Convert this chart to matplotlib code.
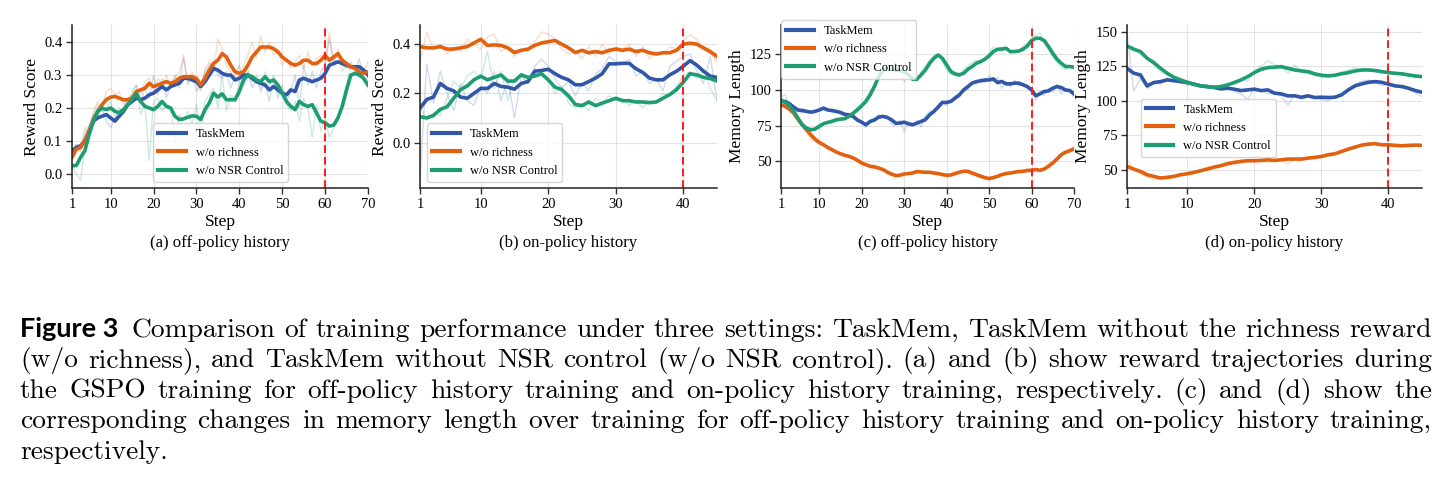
import numpy as np
import matplotlib.pyplot as plt

plt.rcParams['font.family'] = ['Liberation Serif', 'DejaVu Serif']

steps_off = np.arange(1, 71)
steps_on = np.arange(1, 46)
series_names = ["TaskMem", "w/o richness", "w/o NSR Control"]
colors = ["#3158a8", "#e2610f", "#1f9d72"]

# (a) reward, off-policy history -- smoothed curves
a_taskmem = [0.07, 0.08, 0.085, 0.10, 0.13, 0.16, 0.17, 0.175, 0.18, 0.17,
             0.16, 0.175, 0.19, 0.21, 0.22, 0.23, 0.225, 0.23, 0.24, 0.245,
             0.255, 0.265, 0.255, 0.265, 0.27, 0.275, 0.29, 0.29, 0.285, 0.28,
             0.265, 0.28, 0.30, 0.32, 0.315, 0.305, 0.30, 0.30, 0.285, 0.29,
             0.30, 0.30, 0.29, 0.28, 0.275, 0.27, 0.255, 0.265, 0.255, 0.245,
             0.24, 0.255, 0.25, 0.285, 0.29, 0.285, 0.28, 0.285, 0.29, 0.305,
             0.33, 0.335, 0.34, 0.335, 0.33, 0.325, 0.325, 0.325, 0.315, 0.30]
a_richness = [0.05, 0.075, 0.08, 0.10, 0.13, 0.165, 0.19, 0.21, 0.225, 0.233,
              0.235, 0.23, 0.225, 0.225, 0.23, 0.25, 0.255, 0.26, 0.275, 0.265,
              0.27, 0.275, 0.28, 0.275, 0.28, 0.29, 0.295, 0.295, 0.295, 0.29,
              0.27, 0.29, 0.315, 0.335, 0.345, 0.365, 0.355, 0.33, 0.31, 0.305,
              0.31, 0.33, 0.355, 0.37, 0.385, 0.385, 0.385, 0.38, 0.37, 0.355,
              0.345, 0.335, 0.33, 0.335, 0.345, 0.345, 0.335, 0.335, 0.345, 0.36,
              0.345, 0.355, 0.365, 0.345, 0.335, 0.325, 0.32, 0.31, 0.305, 0.31]
a_nsr = [0.025, 0.025, 0.05, 0.07, 0.12, 0.16, 0.19, 0.20, 0.195, 0.20,
         0.19, 0.185, 0.195, 0.21, 0.225, 0.245, 0.22, 0.205, 0.20, 0.195,
         0.205, 0.22, 0.205, 0.20, 0.175, 0.165, 0.167, 0.172, 0.176, 0.175,
         0.165, 0.195, 0.215, 0.245, 0.233, 0.243, 0.225, 0.225, 0.225, 0.25,
         0.285, 0.30, 0.295, 0.285, 0.28, 0.295, 0.28, 0.285, 0.27, 0.245,
         0.22, 0.205, 0.195, 0.22, 0.21, 0.205, 0.21, 0.185, 0.16, 0.155,
         0.145, 0.148, 0.17, 0.205, 0.255, 0.30, 0.305, 0.30, 0.29, 0.27]
# (a) raw values
a_taskmem_raw = [0.07, 0.09, 0.08, 0.12, 0.15, 0.18, 0.17, 0.20, 0.16, 0.14,
                 0.17, 0.19, 0.20, 0.23, 0.21, 0.24, 0.22, 0.26, 0.23, 0.30,
                 0.24, 0.29, 0.23, 0.27, 0.30, 0.26, 0.36, 0.27, 0.30, 0.25,
                 0.27, 0.31, 0.33, 0.34, 0.30, 0.29, 0.31, 0.26, 0.30, 0.33,
                 0.27, 0.31, 0.26, 0.29, 0.25, 0.28, 0.22, 0.29, 0.23, 0.27,
                 0.22, 0.25, 0.30, 0.20, 0.33, 0.27, 0.31, 0.26, 0.31, 0.33,
                 0.41, 0.34, 0.36, 0.33, 0.32, 0.34, 0.31, 0.35, 0.28, 0.29]
a_richness_raw = [0.05, 0.09, 0.07, 0.14, 0.12, 0.19, 0.22, 0.20, 0.25, 0.26,
                  0.24, 0.25, 0.21, 0.23, 0.24, 0.27, 0.24, 0.28, 0.29, 0.25,
                  0.29, 0.27, 0.30, 0.26, 0.29, 0.31, 0.35, 0.28, 0.31, 0.28,
                  0.25, 0.32, 0.34, 0.31, 0.41, 0.38, 0.33, 0.31, 0.29, 0.30,
                  0.33, 0.36, 0.40, 0.35, 0.42, 0.37, 0.40, 0.36, 0.38, 0.33,
                  0.35, 0.32, 0.34, 0.36, 0.32, 0.37, 0.33, 0.35, 0.36, 0.34,
                  0.43, 0.33, 0.38, 0.31, 0.34, 0.32, 0.33, 0.30, 0.31, 0.34]
a_nsr_raw = [0.03, 0.00, -0.02, 0.08, 0.14, 0.18, 0.21, 0.19, 0.20, 0.22,
             0.17, 0.20, 0.18, 0.22, 0.25, 0.27, 0.18, 0.21, 0.04, 0.22,
             0.23, 0.19, 0.21, 0.20, 0.10, 0.18, 0.16, 0.19, 0.15, 0.21,
             0.12, 0.22, 0.24, 0.26, 0.20, 0.30, 0.19, 0.24, 0.22, 0.28,
             0.27, 0.32, 0.28, 0.30, 0.26, 0.31, 0.27, 0.30, 0.25, 0.24,
             0.21, 0.19, 0.22, 0.16, 0.23, 0.20, 0.11, 0.21, 0.13, 0.17,
             0.11, 0.14, 0.16, 0.22, 0.27, 0.33, 0.31, 0.32, 0.28, 0.26]

# (b) reward, on-policy history
b_taskmem = [0.14, 0.175, 0.185, 0.24, 0.22, 0.21, 0.185, 0.18, 0.20, 0.22,
             0.22, 0.24, 0.228, 0.225, 0.217, 0.24, 0.248, 0.29, 0.293, 0.298,
             0.28, 0.265, 0.255, 0.235, 0.235, 0.248, 0.262, 0.28, 0.32, 0.32,
             0.322, 0.322, 0.30, 0.285, 0.262, 0.255, 0.255, 0.275, 0.29, 0.31,
             0.333, 0.315, 0.29, 0.27, 0.265]
b_richness = [0.39, 0.385, 0.385, 0.39, 0.38, 0.38, 0.385, 0.39, 0.405, 0.42,
              0.395, 0.397, 0.395, 0.385, 0.366, 0.375, 0.38, 0.395, 0.405, 0.41,
              0.415, 0.40, 0.385, 0.366, 0.375, 0.365, 0.37, 0.365, 0.375, 0.38,
              0.375, 0.38, 0.37, 0.375, 0.365, 0.36, 0.365, 0.365, 0.375, 0.40,
              0.404, 0.40, 0.385, 0.37, 0.35]
b_nsr = [0.105, 0.10, 0.11, 0.135, 0.145, 0.18, 0.215, 0.23, 0.255, 0.27,
         0.255, 0.265, 0.275, 0.25, 0.25, 0.275, 0.265, 0.27, 0.28, 0.255,
         0.225, 0.215, 0.19, 0.155, 0.15, 0.165, 0.15, 0.16, 0.17, 0.18,
         0.17, 0.17, 0.165, 0.165, 0.162, 0.165, 0.18, 0.195, 0.215, 0.245,
         0.28, 0.275, 0.265, 0.26, 0.25]
b_taskmem_raw = [-0.15, 0.32, 0.16, 0.29, 0.20, 0.13, 0.24, 0.17, 0.15, 0.23,
                 0.20, 0.29, 0.17, 0.26, 0.10, 0.27, 0.24, 0.31, 0.34, 0.31,
                 0.26, 0.22, 0.25, 0.19, 0.24, 0.21, 0.28, 0.30, 0.35, 0.33,
                 0.32, 0.34, 0.27, 0.29, 0.24, 0.26, 0.21, 0.31, 0.33, 0.35,
                 0.36, 0.29, 0.24, 0.35, 0.17]
b_richness_raw = [0.33, 0.45, 0.38, 0.40, 0.36, 0.39, 0.37, 0.42, 0.40, 0.38,
                  0.43, 0.44, 0.37, 0.39, 0.35, 0.38, 0.37, 0.41, 0.45, 0.44,
                  0.42, 0.38, 0.36, 0.37, 0.34, 0.39, 0.35, 0.40, 0.36, 0.39,
                  0.38, 0.40, 0.35, 0.39, 0.34, 0.37, 0.36, 0.39, 0.38, 0.41,
                  0.44, 0.42, 0.38, 0.36, 0.33]
b_nsr_raw = [0.15, 0.09, 0.12, 0.11, 0.18, 0.25, 0.22, 0.27, 0.29, 0.26,
             0.37, 0.22, 0.29, 0.17, 0.26, 0.28, 0.24, 0.30, 0.27, 0.26,
             0.20, 0.23, 0.16, 0.14, 0.16, 0.13, 0.18, 0.16, 0.19, 0.17,
             0.18, 0.15, 0.17, 0.14, 0.17, 0.16, 0.20, 0.19, 0.23, 0.27,
             0.29, 0.26, 0.30, 0.22, 0.17]

# (c) memory length, off-policy history
c_taskmem = [92, 92, 90.3, 88, 86, 85.7, 85, 84.5, 85, 86,
             87.3, 86, 85.7, 85, 84.3, 83, 82.6, 81.5, 79, 77.5,
             75.7, 78, 79, 81, 81.5, 80.8, 79.2, 76.8, 76.8, 77.5,
             76.3, 75.7, 76.8, 78, 79.2, 82.6, 85, 88, 91.3, 91.3,
             92, 94.3, 96.6, 100, 102.4, 104.8, 105.9, 106.4, 107, 107,
             107.8, 105.2, 106, 104.3, 104.3, 104.8, 104.8, 103.6, 102.4, 100,
             96, 97.3, 99, 99.4, 101.3, 102.4, 101.7, 100, 99.6, 97.3]
c_richness = [89.6, 88.5, 86.6, 83.8, 79.6, 75.7, 72.2, 68.7, 65.7, 63.3,
              61.7, 59.8, 58.2, 56.6, 55.4, 54.3, 53.6, 52.4, 50.8, 48.9,
              47.7, 46.6, 46.1, 45.4, 44.3, 42.6, 41.2, 40.1, 40.3, 41.2,
              41.5, 41.9, 42.9, 42.6, 42.4, 42.4, 41.9, 41.5, 40.8, 40.3,
              40.5, 41.5, 42.4, 43.1, 43.1, 41.9, 40.8, 39.6, 38.7, 38.0,
              38.7, 39.6, 40.8, 41.5, 41.9, 42.4, 42.9, 43.1, 43.6, 43.8,
              44.3, 43.8, 44.7, 46.6, 48.9, 51.7, 54.7, 56.4, 57.5, 58.7]
c_nsr = [93, 91.3, 89, 85, 80.3, 75.7, 73.3, 72.2, 72.6, 74.5,
         76.4, 77.3, 78, 79.2, 79.6, 79.9, 81.5, 83.8, 86.1, 89,
         92, 96.6, 102.4, 109.4, 114, 115.2, 114.5, 114, 113.6, 112.9,
         110.6, 107.5, 107.5, 110.6, 114, 118.7, 122.2, 124.5, 122.2, 117.6,
         112.9, 111.3, 110.6, 111.7, 114.5, 116.4, 118.7, 119.9, 121.5, 123.8,
         126.9, 128.5, 128.7, 129.2, 126.9, 126.9, 127.3, 128.5, 130.8, 134.5,
         136.2, 136.2, 134.5, 130.4, 125.7, 121.5, 118.7, 116.4, 116.4, 116]
c_taskmem_raw = [93, 91, 89, 86, 85, 84, 86, 84, 86, 85,
                 88, 87, 84, 86, 83, 82, 84, 80, 78, 77,
                 74, 79, 80, 83, 81, 82, 76, 75, 79, 71,
                 78, 75, 79, 74, 82, 85, 84, 90, 92, 89,
                 93, 96, 95, 101, 100, 106, 104, 108, 105, 110,
                 106, 109, 101, 106, 102, 107, 103, 105, 101, 100,
                 93, 99, 96, 101, 98, 104, 97, 101, 99, 95]
c_richness_raw = [90, 89, 86, 82, 78, 74, 70, 66, 64, 62,
                  61, 59, 58, 56, 55, 54, 53, 52, 50, 48,
                  47, 46, 48, 44, 45, 41, 40, 40, 41, 42,
                  41, 43, 42, 43, 42, 43, 41, 42, 40, 40,
                  41, 42, 43, 44, 42, 40, 40, 39, 38, 37,
                  39, 40, 41, 42, 42, 43, 44, 43, 45, 44,
                  45, 43, 45, 48, 50, 53, 56, 57, 58, 61]
c_nsr_raw = [95, 97, 88, 84, 78, 75, 72, 71, 74, 76,
             77, 78, 79, 78, 80, 81, 82, 85, 88, 90,
             94, 99, 105, 111, 116, 118, 113, 116, 114, 106,
             110, 108, 106, 113, 117, 121, 124, 125, 120, 114,
             111, 110, 109, 115, 117, 119, 121, 118, 123, 126,
             130, 128, 127, 129, 126, 128, 126, 131, 133, 136,
             138, 140, 133, 128, 123, 119, 116, 114, 117, 115]

# (d) memory length, on-policy history
d_taskmem = [123.5, 120, 118.7, 110.8, 113.2, 113.9, 115.1, 114.6, 113.9, 113.2,
             112, 110.8, 110.3, 109.6, 108.6, 109.1, 108.4, 107.4, 107.9, 108.4,
             107.4, 107.9, 105.5, 105, 103.6, 103.6, 102.6, 103.6, 102.4, 102.6,
             102.4, 102.6, 104.3, 107.9, 110.8, 112.2, 113.4, 113.9, 113.4, 112,
             110.8, 110.3, 109.1, 107.4, 106.2]
d_richness = [52.6, 50.7, 49, 46.6, 45.4, 44.2, 44.7, 45.4, 46.6, 47.3,
              48.3, 49.5, 50.7, 52.1, 53.1, 54.5, 55.5, 56.2, 56.7, 56.7,
              56.9, 57.4, 56.9, 57.4, 57.9, 57.9, 57.9, 58.6, 59.1, 59.8,
              61, 61.7, 63.4, 65.1, 66.5, 68, 68.7, 69, 68.2, 68.2,
              67.8, 67.5, 67.8, 68, 67.8]
d_nsr = [139.7, 137.3, 135.6, 130.8, 127.6, 123.5, 119.9, 117, 115.1, 113.4,
         112, 110.8, 110.3, 109.8, 110.3, 111.5, 113.2, 115.1, 117.5, 120.4,
         122.8, 124, 124.3, 124.7, 123.5, 122.3, 121.6, 121.1, 119.5, 118.5,
         118, 118.5, 119.5, 120.4, 121.6, 122.3, 122.3, 121.9, 121.1, 120.4,
         119.9, 119.5, 118.7, 118, 117.5]
d_taskmem_raw = [149, 107, 116, 109, 114, 112, 117, 113, 115, 111,
                 113, 110, 109, 111, 108, 110, 107, 105, 101, 109,
                 108, 105, 107, 104, 97, 104, 101, 103, 102, 101,
                 100, 103, 104, 108, 112, 114, 115, 113, 111, 112,
                 110, 111, 108, 106, 103]
d_richness_raw = [58, 50, 47, 45, 43, 44, 45, 46, 47, 48,
                  49, 50, 52, 53, 54, 56, 56, 57, 57, 56,
                  57, 55, 58, 57, 54, 58, 57, 58, 59, 60,
                  61, 62, 64, 65, 67, 68, 69, 70, 68, 68,
                  67, 67, 68, 67, 68]
d_nsr_raw = [138, 139, 133, 130, 126, 121, 119, 117, 114, 113,
             111, 110, 110, 109, 111, 112, 114, 116, 114, 122,
             125, 129, 126, 125, 120, 126, 121, 120, 118, 117,
             118, 119, 121, 122, 124, 122, 123, 121, 120, 121,
             120, 119, 118, 117, 118]

fig = plt.figure(figsize=(14.49, 4.88), dpi=100)
W, H = 1449, 488

panels = [
    dict(box=(72, 368), x=steps_off, smooth=[a_taskmem, a_richness, a_nsr],
         raw=[a_taskmem_raw, a_richness_raw, a_nsr_raw], ylim=(-0.043, 0.452),
         yticks=[0.0, 0.1, 0.2, 0.3, 0.4], ylabel="Reward Score", vline=60,
         xmax=70, leg=dict(loc="lower left", bbox_to_anchor=(0.274, 0.037)),
         cap="(a) off-policy history", fmt="{:.1f}"),
    dict(box=(420, 717), x=steps_on, smooth=[b_taskmem, b_richness, b_nsr],
         raw=[b_taskmem_raw, b_richness_raw, b_nsr_raw], ylim=(-0.185, 0.478),
         yticks=[0.0, 0.2, 0.4], ylabel="Reward Score", vline=40,
         xmax=45, leg=dict(loc="lower left", bbox_to_anchor=(0.024, 0.037)),
         cap="(b) on-policy history", fmt="{:.1f}"),
    dict(box=(781, 1074), x=steps_off, smooth=[c_taskmem, c_richness, c_nsr],
         raw=[c_taskmem_raw, c_richness_raw, c_nsr_raw], ylim=(31.4, 145.5),
         yticks=[50, 75, 100, 125], ylabel="Memory Length", vline=60,
         xmax=70, leg=dict(loc="upper left", bbox_to_anchor=(0.0, 1.03)),
         cap="(c) off-policy history", fmt="{:.0f}"),
    dict(box=(1127, 1422), x=steps_on, smooth=[d_taskmem, d_richness, d_nsr],
         raw=[d_taskmem_raw, d_richness_raw, d_nsr_raw], ylim=(37.0, 154.8),
         yticks=[50, 75, 100, 125, 150], ylabel="Memory Length", vline=40,
         xmax=45, leg=dict(loc="lower left", bbox_to_anchor=(0.047, 0.19)),
         cap="(d) on-policy history", fmt="{:.0f}"),
]

top, bottom = 25, 188
for p in panels:
    x0, x1 = p["box"]
    ax = fig.add_axes([x0 / W, 1 - bottom / H, (x1 - x0) / W, (bottom - top) / H])
    for raw, col in zip(p["raw"], colors):
        ax.plot(p["x"], raw, color=col, lw=1.0, alpha=0.22)
    for sm, col, name in zip(p["smooth"], colors, series_names):
        ax.plot(p["x"], sm, color=col, lw=2.6, label=name)
    ax.axvline(p["vline"], color="#ff1a1a", lw=1.4, ls=(0, (4, 2)))
    ax.set_xlim(1, p["xmax"])
    ax.set_ylim(*p["ylim"])
    xt = [1] + list(range(10, p["xmax"] + 1, 10))
    ax.set_xticks(xt)
    ax.set_yticks(p["yticks"])
    ax.set_yticklabels([p["fmt"].format(v) for v in p["yticks"]])
    ax.tick_params(labelsize=10.5, length=4, width=1, color="#333333", pad=3)
    ax.grid(True, color="#e3e3e3", lw=0.8)
    ax.set_axisbelow(True)
    for s in ["top", "right"]:
        ax.spines[s].set_visible(False)
    for s in ["left", "bottom"]:
        ax.spines[s].set_color("#222222")
        ax.spines[s].set_linewidth(1.1)
    ax.set_xlabel("Step", fontsize=12.5, labelpad=2)
    ax.set_ylabel(p["ylabel"], fontsize=12.5, labelpad=3)
    leg = ax.legend(fontsize=9, borderaxespad=0, framealpha=0.8,
                    edgecolor="#cccccc", handlelength=2.2, **p["leg"])
    for line in leg.get_lines():
        line.set_linewidth(3)
    fig.text((x0 + x1) / 2 / W, 1 - 243 / H, p["cap"], ha="center", va="center",
             fontsize=12)

# caption, justified line by line
cap_lines = [
    "Comparison of training performance under three settings: TaskMem, TaskMem without the richness reward",
    "(w/o richness), and TaskMem without NSR control (w/o NSR control). (a) and (b) show reward trajectories during",
    "the GSPO training for off-policy history training and on-policy history training, respectively. (c) and (d) show the",
    "corresponding changes in memory length over training for off-policy history training and on-policy history training,",
    "respectively.",
]
baselines = [337, 367, 398, 428, 459]
cap_font = dict(family="cmr10", fontsize=19.8, va="baseline")

renderer = fig.canvas.get_renderer()
lab = fig.text(20 / W, 1 - baselines[0] / H, "Figure 3", family="Lato",
               weight="bold", fontsize=19.5, va="baseline")
lab_w = lab.get_window_extent(renderer).width

for i, (line, yb) in enumerate(zip(cap_lines, baselines)):
    words = line.split(" ")
    start = 20 + lab_w + 13 if i == 0 else 20
    texts = [fig.text(0, 1 - yb / H, w, **cap_font) for w in words]
    widths = [t.get_window_extent(renderer).width for t in texts]
    if i < len(cap_lines) - 1 and len(words) > 1:
        gap = (1432 - start - sum(widths)) / (len(words) - 1)
    else:
        gap = 7
    x = start
    for t, w in zip(texts, widths):
        t.set_x(x / W)
        x += w + gap

fig.savefig("out.png", dpi=100)
